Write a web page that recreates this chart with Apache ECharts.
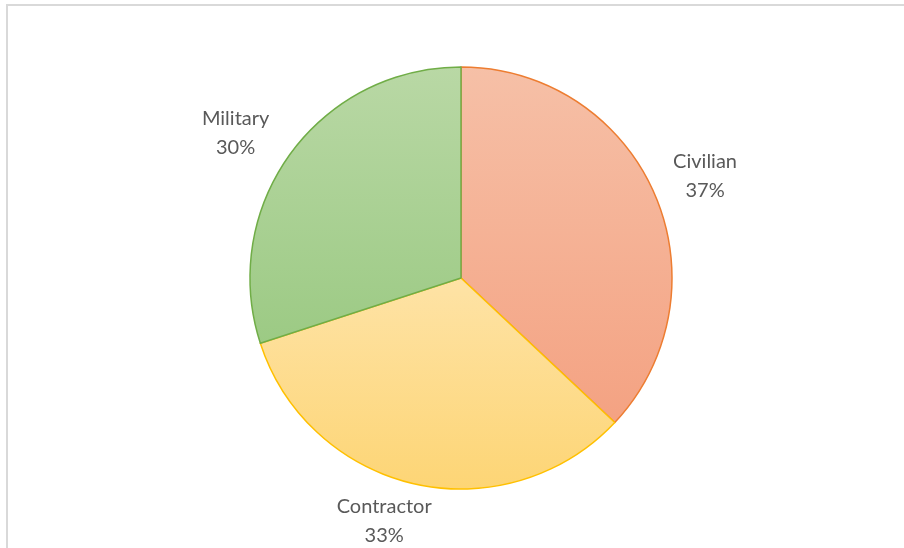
<!DOCTYPE html>
<html>
<head>
<meta charset="utf-8">
<style>
  html, body { margin: 0; padding: 0; background: #ffffff; }
  #chart { width: 904px; height: 548px; }
</style>
<script src="https://cdn.jsdelivr.net/npm/echarts@6/dist/echarts.min.js"></script>
</head>
<body>
<div id="chart"></div>
<script>
// Workforce composition
const categories = ['Civilian', 'Contractor', 'Military'];
const shares = [37, 33, 30];

// Slice fills (top → bottom gradient) and outlines
const fillTop = ['#F6C0A7', '#FEE3A6', '#B9D8A5'];
const fillBottom = ['#F4A282', '#FDD575', '#9CCA84'];
const outline = ['#ED7D31', '#FFC000', '#70AD47'];

const CX = 461, CY = 278, R = 211;
// label distance from centre (as a share of the radius) plus small nudges
const labelDist = [1.25, 1.17, 1.25];
const labelNudgeX = [2, -23, -12];
const labelNudgeY = [3, 2, 10];

const total = shares.reduce((a, b) => a + b, 0);
const midAngle = shares.map((v, i) => {
  const before = shares.slice(0, i).reduce((a, b) => a + b, 0);
  return ((before + v / 2) / total) * Math.PI * 2;
});

const chart = echarts.init(document.getElementById('chart'), null, { renderer: 'canvas' });

const data = categories.map((name, i) => ({
  name,
  value: shares[i],
  itemStyle: {
    color: new echarts.graphic.LinearGradient(0, 0, 0, 1, [
      { offset: 0, color: fillTop[i] },
      { offset: 1, color: fillBottom[i] }
    ]),
    borderColor: outline[i],
    borderWidth: 1.5
  }
}));

chart.setOption({
  animation: false,
  backgroundColor: '#ffffff',
  graphic: [{
    type: 'rect',
    shape: { x: 7, y: 5, width: 1000, height: 1000 },
    style: { fill: 'none', stroke: '#D9D9D9', lineWidth: 2 },
    silent: true
  }],
  series: [{
    type: 'pie',
    center: [CX, CY],
    radius: R,
    startAngle: 90,
    clockwise: true,
    data,
    label: {
      show: true,
      position: 'outside',
      formatter: p => p.name + '\n' + p.value + '%',
      fontFamily: 'Lato, "Open Sans", sans-serif',
      fontSize: 20,
      lineHeight: 29,
      color: '#595959',
      align: 'center'
    },
    labelLine: { show: false, length: 20, length2: 0 },
    labelLayout: params => {
      const i = params.dataIndex;
      const a = midAngle[i];
      return {
        x: CX + Math.sin(a) * R * labelDist[i] + labelNudgeX[i],
        y: CY - Math.cos(a) * R * labelDist[i] + labelNudgeY[i],
        align: 'center',
        verticalAlign: 'middle'
      };
    },
    emphasis: { disabled: true }
  }]
});
</script>
</body>
</html>
